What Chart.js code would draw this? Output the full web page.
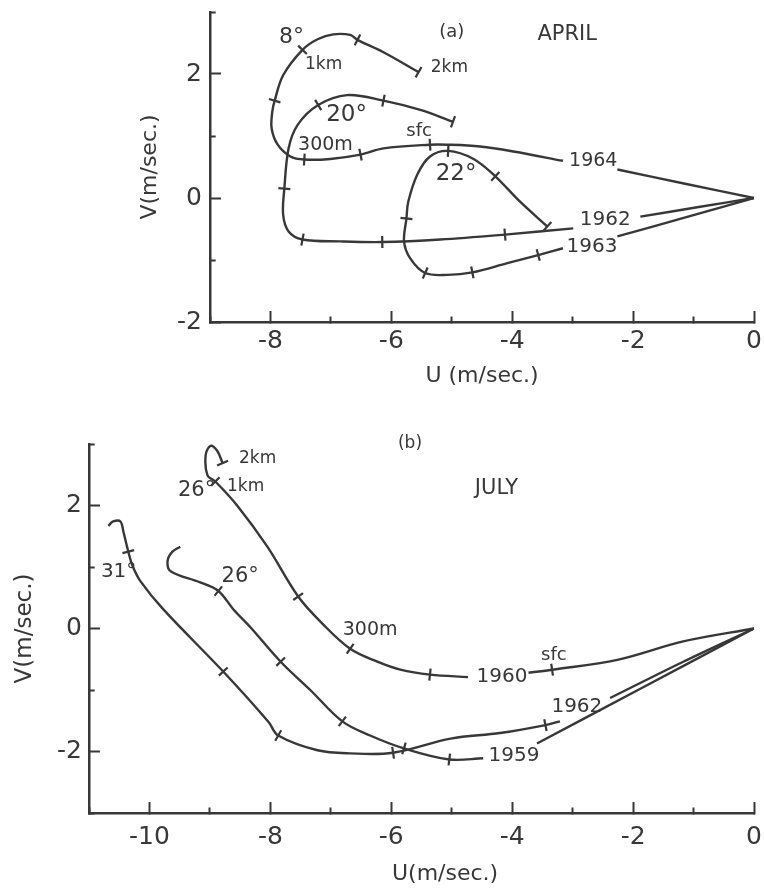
<!DOCTYPE html>
<html><head><meta charset="utf-8">
<script src="https://cdn.jsdelivr.net/npm/chart.js@4"></script>
<style>
html,body{margin:0;padding:0;background:#fff;}
body{width:764px;height:891px;position:relative;overflow:hidden;}
.box{position:absolute;left:0;width:764px;}
#boxA{top:0;height:400px;}
#boxB{top:420px;height:471px;}
</style></head><body>
<div class="box" id="boxA"><canvas id="cA"></canvas></div>
<div class="box" id="boxB"><canvas id="cB"></canvas></div>
<script>
// ---------- DATA (U, V in m/sec); null = break in the drawn line where a year label sits ----------
// (a) APRIL hodographs
const apr1964 = [[0,0],[-1.14,0.23],[-2.26,0.46],null,[-3.16,0.60],[-3.98,0.75],[-4.53,0.83],[-5.07,0.86],[-5.36,0.86],[-6.13,0.80],[-6.51,0.70],[-7.01,0.63],[-7.44,0.62],[-7.67,0.67],[-7.88,0.86],[-7.98,1.12],[-7.97,1.39],[-7.93,1.57],[-7.79,1.98],[-7.47,2.39],[-7.22,2.56],[-6.96,2.64],[-6.68,2.63],[-6.56,2.55],[-6.13,2.35],[-5.55,2.03]];
const apr1964Levels = [[-5.36,0.86],[-6.51,0.70],[-7.44,0.62],[-7.93,1.57],[-7.47,2.39],[-6.56,2.55],[-5.55,2.03]];
const apr1962 = [[0,0],[-0.94,-0.15],[-1.88,-0.30],null,[-2.99,-0.49],[-4.12,-0.59],[-5.19,-0.67],[-6.15,-0.71],[-6.84,-0.70],[-7.47,-0.67],[-7.70,-0.54],[-7.79,-0.27],[-7.77,0.15],[-7.70,0.80],[-7.55,1.18],[-7.21,1.50],[-6.73,1.66],[-6.13,1.57],[-5.52,1.42],[-4.98,1.23]];
const apr1962Levels = [[-4.12,-0.59],[-6.15,-0.71],[-7.47,-0.67],[-7.77,0.15],[-7.21,1.50],[-6.13,1.57],[-4.98,1.23]];
const apr1963 = [[0,0],[-1.12,-0.31],[-2.26,-0.62],null,[-3.16,-0.81],[-3.57,-0.92],[-4.08,-1.05],[-4.66,-1.20],[-5.07,-1.24],[-5.44,-1.21],[-5.69,-0.97],[-5.79,-0.70],[-5.75,-0.33],[-5.72,-0.06],[-5.57,0.38],[-5.36,0.67],[-5.06,0.76],[-4.64,0.63],[-4.28,0.35],[-3.87,-0.06],[-3.42,-0.46]];
const apr1963Levels = [[-3.57,-0.92],[-4.66,-1.20],[-5.44,-1.21],[-5.75,-0.33],[-5.06,0.76],[-4.28,0.35],[-3.42,-0.46]];

// (b) JULY hodographs
const jul1960 = [[0,0],[-1.17,-0.21],[-2.26,-0.51],[-3.34,-0.67],[-3.73,-0.72],null,[-4.73,-0.79],[-5.36,-0.75],[-5.85,-0.67],[-6.23,-0.54],[-6.68,-0.33],[-7.14,0.08],[-7.54,0.52],[-8.05,1.33],[-8.55,2.00],[-8.91,2.39],[-9.04,2.49],[-9.07,2.82],[-8.99,2.97],[-8.88,2.89],[-8.79,2.69]];
const jul1960Levels = [[-3.34,-0.67],[-5.36,-0.75],[-6.68,-0.33],[-7.54,0.52],[-8.91,2.39],[-8.79,2.69]];
const jul1962 = [[0,0],[-1.17,-0.54],[-2.38,-1.13],null,[-3.21,-1.51],[-3.45,-1.57],[-4.20,-1.70],[-5.02,-1.79],[-5.97,-2.02],[-6.68,-2.03],[-7.22,-1.98],[-7.87,-1.74],[-8.03,-1.52],[-8.78,-0.70],[-9.77,0.31],[-10.15,0.77],[-10.28,1.02],[-10.35,1.25],[-10.43,1.57],[-10.48,1.74],[-10.60,1.74],[-10.68,1.67]];
const jul1962Levels = [[-3.45,-1.57],[-5.97,-2.02],[-7.87,-1.74],[-8.78,-0.70],[-10.35,1.25]];
const jul1959 = [[0,0],[-1.88,-0.98],[-3.59,-1.87],null,[-4.48,-2.11],[-5.04,-2.13],[-5.79,-1.95],[-6.35,-1.74],[-6.81,-1.51],[-7.34,-1.00],[-7.83,-0.54],[-8.33,0.02],[-8.61,0.31],[-8.86,0.61],[-9.16,0.75],[-9.65,0.93],[-9.70,1.10],[-9.62,1.25],[-9.49,1.33]];
const jul1959Levels = [[-5.04,-2.13],[-5.79,-1.95],[-6.81,-1.51],[-7.83,-0.54],[-8.86,0.61]];

// text annotations: [text, U, V, font size]
const notesA = [
  ['(a)', -5.00, 2.67, 18], ['APRIL', -3.09, 2.64, 21],
  ['8°', -7.65, 2.59, 22], ['1km', -7.12, 2.16, 17], ['2km', -5.04, 2.10, 17],
  ['20°', -6.74, 1.34, 23], ['300m', -7.09, 0.86, 19], ['sfc', -5.54, 1.07, 18],
  ['22°', -4.93, 0.39, 23], ['1964', -2.66, 0.59, 19], ['1962', -2.46, -0.35, 20],
  ['1963', -2.68, -0.78, 20]
];
const notesB = [
  ['(b)', -5.69, 3.0, 17], ['JULY', -4.26, 2.28, 21],
  ['2km', -8.21, 2.77, 17], ['1km', -8.41, 2.31, 17], ['26°', -9.22, 2.25, 21],
  ['31°', -10.51, 0.92, 20], ['26°', -8.50, 0.85, 21], ['300m', -6.35, -0.02, 19],
  ['1960', -4.17, -0.79, 20], ['sfc', -3.31, -0.43, 18], ['1962', -2.93, -1.28, 20],
  ['1959', -3.97, -2.07, 20], ['U(m/sec.)', -5.11, -4.0, 22]
];

// ---------- RENDERING ----------
const FONT = '"DejaVu Sans", sans-serif';
const INK = '#383838';

function tickAngle(ctx, path) {
  const raw = ctx.raw;
  if (!raw) return 0;
  const xs = ctx.chart.scales.x, ys = ctx.chart.scales.y;
  const px = xs.getPixelForValue(raw.x), py = ys.getPixelForValue(raw.y);
  const pts = path.filter(p => p).map(p => [xs.getPixelForValue(p[0]), ys.getPixelForValue(p[1])]);
  let best = 0, bd = Infinity;
  pts.forEach((p, i) => { const d = (p[0]-px)**2 + (p[1]-py)**2; if (d < bd) { bd = d; best = i; } });
  const a = pts[Math.max(best-1, 0)], b = pts[Math.min(best+1, pts.length-1)];
  return Math.atan2(b[1]-a[1], b[0]-a[0]) * 180 / Math.PI + 90;
}

function notesPlugin(items) {
  return {
    id: 'notes',
    afterDatasetsDraw(chart) {
      const {ctx, scales: {x, y}} = chart;
      ctx.save();
      ctx.fillStyle = INK; ctx.textAlign = 'center'; ctx.textBaseline = 'middle';
      items.forEach(([t, u, v, s]) => {
        ctx.font = s + 'px ' + FONT;
        ctx.fillText(t, x.getPixelForValue(u), y.getPixelForValue(v));
      });
      ctx.restore();
    }
  };
}

const isOdd = c => c.tick && Math.abs(Math.round(c.tick.value)) % 2 === 1;
const evenLabel = v => (Math.abs(Math.round(v)) % 2 === 0 ? String(Math.round(v)) : '');

function build(id, cfg) {
  const datasets = [];
  cfg.curves.forEach((path, k) => {
    datasets.push({
      data: path.map(p => p ? {x: p[0], y: p[1]} : {x: null, y: null}),
      showLine: true, spanGaps: false, tension: 0.35,
      borderColor: INK, borderWidth: 2.4, pointRadius: 0, fill: false
    });
    datasets.push({
      data: cfg.levels[k].map(p => ({x: p[0], y: p[1]})),
      showLine: false, pointStyle: 'line', pointRadius: 6,
      pointBorderColor: INK, pointBorderWidth: 2.2,
      pointRotation: c => tickAngle(c, path)
    });
  });
  return new Chart(document.getElementById(id), {
    type: 'scatter',
    data: {datasets},
    plugins: [notesPlugin(cfg.notes)],
    options: {
      responsive: true, maintainAspectRatio: false, animation: false, events: [],
      layout: {padding: {left: 0, right: 10, top: cfg.top, bottom: 0}},
      plugins: {legend: {display: false}, tooltip: {enabled: false}},
      scales: {
        x: {
          type: 'linear', min: cfg.xMin, max: 0,
          ticks: {stepSize: 1, autoSkip: false, maxRotation: 0, padding: cfg.xPad,
                  font: {family: FONT, size: 25}, color: INK, callback: evenLabel},
          grid: {drawOnChartArea: false, tickLength: -11, tickWidth: 2, tickColor: INK,
                 tickBorderDash: c => isOdd(c) ? [7, 50] : []},
          border: {display: true, color: INK, width: 2.5},
          title: cfg.xTitle,
          afterFit: s => { s.height = cfg.xH; s.paddingLeft = 0; s.paddingRight = 0; }
        },
        y: {
          type: 'linear', min: cfg.yMin, max: 3,
          ticks: {stepSize: 1, autoSkip: false, padding: cfg.yPad,
                  font: {family: FONT, size: 25}, color: INK, callback: evenLabel},
          grid: {drawOnChartArea: false, tickLength: -11, tickWidth: 2, tickColor: INK,
                 tickBorderDash: c => isOdd(c) ? [0, 5.3, 7, 50] : []},
          border: {display: true, color: INK, width: 2.5},
          title: cfg.yTitle,
          afterFit: s => { s.width = cfg.yW; s.paddingTop = 0; s.paddingBottom = 0; }
        }
      }
    }
  });
}

build('cA', {
  curves: [apr1964, apr1962, apr1963],
  levels: [apr1964Levels, apr1962Levels, apr1963Levels],
  notes: notesA, xMin: -9, yMin: -2, top: 12, xH: 78, yW: 210, xPad: 15, yPad: 19,
  xTitle: {display: true, text: 'U (m/sec.)', color: INK, font: {family: FONT, size: 22}, padding: {top: 0, bottom: 11}},
  yTitle: {display: true, text: 'V(m/sec.)', color: INK, font: {family: FONT, size: 22}, padding: {top: 137, bottom: 0}}
});
build('cB', {
  curves: [jul1960, jul1962, jul1959],
  levels: [jul1960Levels, jul1962Levels, jul1959Levels],
  notes: notesB, xMin: -11, yMin: -3, top: 24, xH: 78, yW: 89, xPad: 20, yPad: 18,
  xTitle: {display: false},
  yTitle: {display: true, text: 'V(m/sec.)', color: INK, font: {family: FONT, size: 23}, padding: {top: 11, bottom: 0}}
});
</script></body></html>
